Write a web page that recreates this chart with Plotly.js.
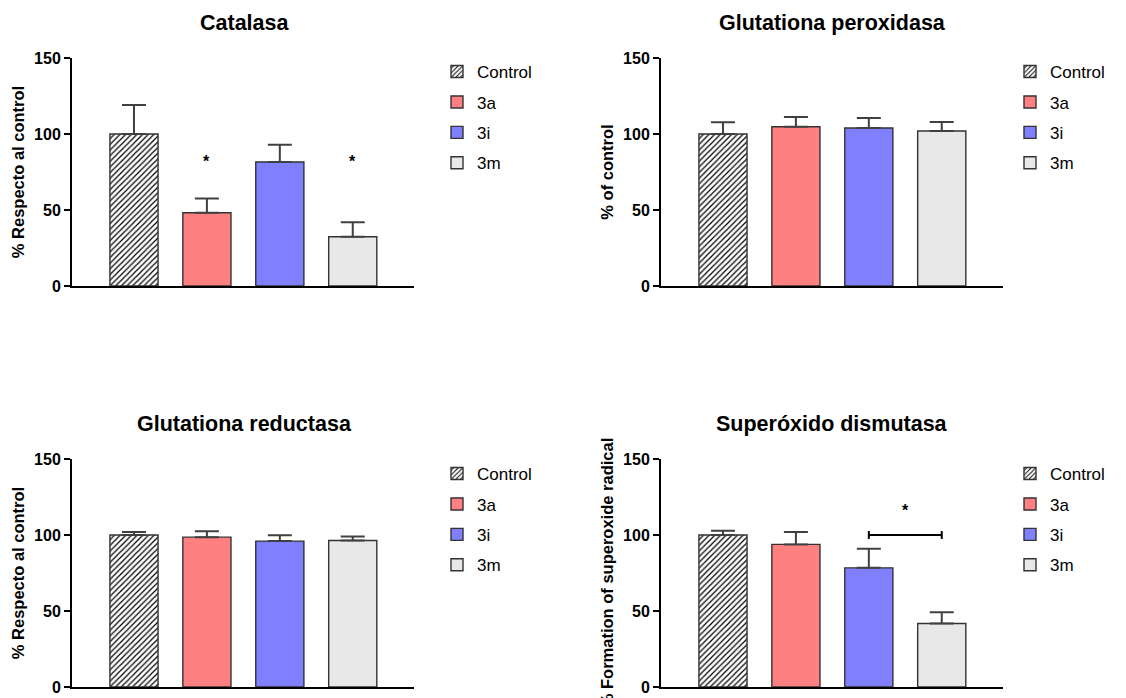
<!DOCTYPE html>
<html>
<head>
<meta charset="utf-8">
<script src="https://cdn.plot.ly/plotly-3.0.1.min.js"></script>
<style>
html,body{margin:0;padding:0;background:#fff;}
#chart{width:1126px;height:698px;}
</style>
</head>
<body>
<div id="chart"></div>
<script>
// ---- data ----
const groups = ['Control', '3a', '3i', '3m'];
const panelTitles = ['Catalasa', 'Glutationa peroxidasa', 'Glutationa reductasa', 'Superóxido dismutasa'];
const yTitles = ['% Respecto al control', '% of control', '% Respecto al control', '% Formation of superoxide radical'];

const catalasaMean = [100, 48.2, 81.6, 32.4];
const catalasaErr  = [19, 9.3, 11.4, 9.5];
const gpxMean = [100, 104.8, 103.9, 102.0];
const gpxErr  = [7.7, 6.4, 6.6, 5.9];
const grMean = [100, 98.6, 96.0, 96.4];
const grErr  = [1.9, 3.8, 3.9, 2.6];
const sodMean = [100, 93.8, 78.4, 41.8];
const sodErr  = [2.8, 8.1, 12.5, 7.4];

const yTickVals = [0, 50, 100, 150];
const catalasaStars = ['', '*', '', '*'];
const catalasaStarY = 82;
const sodBracket = {from: '3i', to: '3m', y: 100, starY: 116, label: '*'};

// ---- styles ----
const FONT = 'Liberation Sans, Arial, Helvetica, sans-serif';
const fills = ['#ffffff', '#ff8080', '#8080ff', '#e8e8e8'];
const outline = '#333333';
const errColor = '#404040';

const means = [catalasaMean, gpxMean, grMean, sodMean];
const errs = [catalasaErr, gpxErr, grErr, sodErr];

const W = 1126, H = 698;
const px = v => v / W;
const py = v => (H - v) / H;
const xDomains = [[px(72), px(414)], [px(661), px(1003)], [px(72), px(414)], [px(661), px(1003)]];
const yDomains = [[py(286), py(58)], [py(286), py(58)], [py(687), py(459)], [py(687), py(459)]];
const legendPos = [[px(437), py(54)], [px(1010), py(54)], [px(437), py(456)], [px(1010), py(456)]];
const titlePos = [[px(244), py(23)], [px(832), py(23)], [px(244), py(424)], [px(832), py(424)]];

const traces = [];
const layout = {
  width: W, height: H,
  margin: {l: 0, r: 0, t: 0, b: 0},
  paper_bgcolor: '#fff', plot_bgcolor: '#fff',
  barmode: 'overlay',
  font: {family: FONT, color: '#000'},
  annotations: [], shapes: []
};

for (let p = 0; p < 4; p++) {
  const sfx = p === 0 ? '' : String(p + 1);
  const legName = 'legend' + sfx;
  for (let i = 0; i < groups.length; i++) {
    const marker = {color: fills[i], line: {color: outline, width: 1.4}};
    if (i === 0) marker.pattern = {shape: '/', fgcolor: '#000', bgcolor: '#fff', size: 4, solidity: 0.3};
    traces.push({
      type: 'bar',
      x: [groups[i]], y: [means[p][i]],
      name: groups[i],
      legend: legName,
      legendgroup: 'g' + p + '_' + i,
      width: 0.66,
      xaxis: 'x' + sfx, yaxis: 'y' + sfx,
      marker: marker,
      error_y: {type: 'data', symmetric: false, array: [errs[p][i]], arrayminus: [0],
                color: errColor, thickness: 2, width: 12},
      hoverinfo: 'x+y'
    });
  }
  layout['xaxis' + sfx] = {
    domain: xDomains[p], anchor: 'y' + sfx, type: 'category',
    categoryorder: 'array', categoryarray: groups,
    range: [-0.85, 3.84], showline: true, linecolor: '#000', linewidth: 2,
    showticklabels: false, ticks: '', showgrid: false, zeroline: false, fixedrange: true
  };
  layout['yaxis' + sfx] = {
    domain: yDomains[p], anchor: 'x' + sfx, range: [0, 150],
    tickvals: yTickVals, ticks: 'outside', ticklen: 6, tickwidth: 2, tickcolor: '#000',
    showline: true, linecolor: '#000', linewidth: 2, showgrid: false, zeroline: false,
    tickfont: {family: FONT, size: 16, weight: 'bold', color: '#000'},
    title: {text: yTitles[p], font: {family: FONT, size: 16.5, weight: 'bold', color: '#000'}, standoff: 5},
    fixedrange: true
  };
  layout[legName] = {
    x: legendPos[p][0], y: legendPos[p][1], xanchor: 'left', yanchor: 'top',
    font: {family: FONT, size: 17, color: '#000'},
    traceorder: 'grouped', tracegroupgap: 5.3, bgcolor: 'rgba(0,0,0,0)', borderwidth: 0
  };
  layout.annotations.push({
    xref: 'paper', yref: 'paper', x: titlePos[p][0], y: titlePos[p][1],
    xanchor: 'center', yanchor: 'middle', showarrow: false,
    text: panelTitles[p], font: {family: FONT, size: 21.5, weight: 'bold', color: '#000'}
  });
}

// significance stars (Catalasa)
catalasaStars.forEach((s, i) => {
  if (!s) return;
  layout.annotations.push({
    xref: 'x', yref: 'y', x: groups[i], y: catalasaStarY, text: s, showarrow: false,
    font: {family: FONT, size: 16, weight: 'bold', color: '#000'}
  });
});

// significance bracket (SOD)
const bi0 = groups.indexOf(sodBracket.from), bi1 = groups.indexOf(sodBracket.to);
layout.shapes.push(
  {type: 'line', xref: 'x4', yref: 'y4', x0: bi0, x1: bi1, y0: sodBracket.y, y1: sodBracket.y, line: {color: '#000', width: 2}},
  {type: 'line', xref: 'x4', yref: 'y4', x0: bi0, x1: bi0, y0: sodBracket.y - 2.6, y1: sodBracket.y + 2.6, line: {color: '#000', width: 2}},
  {type: 'line', xref: 'x4', yref: 'y4', x0: bi1, x1: bi1, y0: sodBracket.y - 2.6, y1: sodBracket.y + 2.6, line: {color: '#000', width: 2}}
);
layout.annotations.push({
  xref: 'x4', yref: 'y4', x: (bi0 + bi1) / 2, y: sodBracket.starY, text: sodBracket.label, showarrow: false,
  font: {family: FONT, size: 16, weight: 'bold', color: '#000'}
});

Plotly.newPlot('chart', traces, layout, {displayModeBar: false});
</script>
</body>
</html>
